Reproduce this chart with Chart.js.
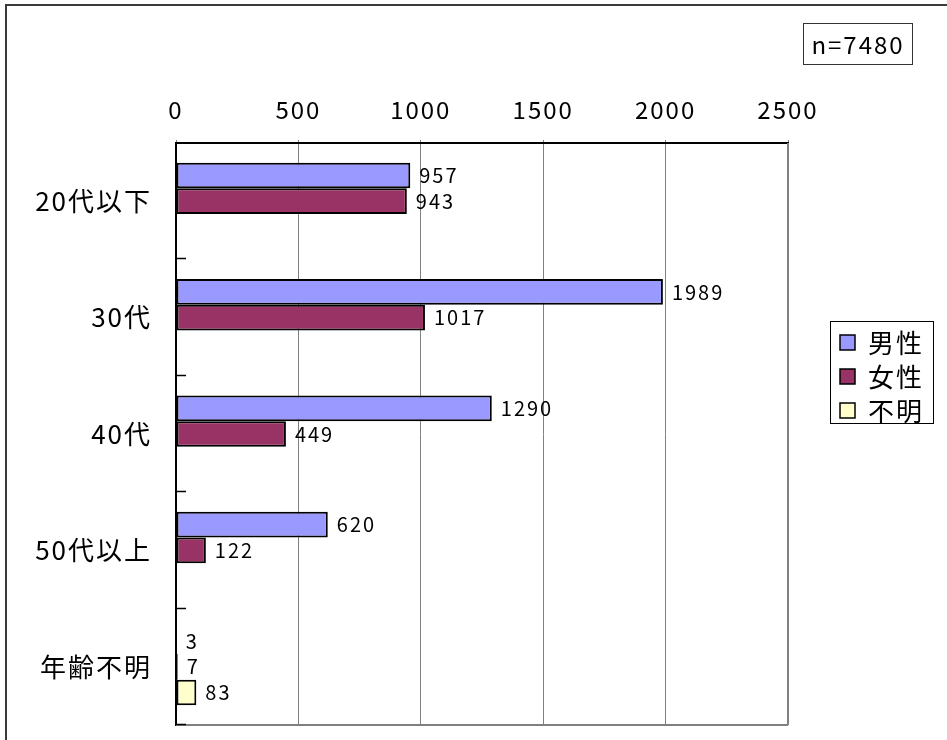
<!DOCTYPE html>
<html><head><meta charset="utf-8">
<script src="https://cdn.jsdelivr.net/npm/chart.js@4/dist/chart.umd.min.js"></script>
<style>
html,body{margin:0;padding:0;background:#fff;overflow:hidden;}
#wrap{position:relative;width:947px;height:740px;}
#frame{position:absolute;left:5px;top:4px;width:1000px;height:1000px;border-left:2px solid #3a3a3a;border-top:2px solid #3a3a3a;}
#c{position:absolute;left:0;top:0;}
#n{position:absolute;left:803px;top:23px;width:108px;height:40px;border:1px solid #333;font:24px "Noto Sans CJK JP";letter-spacing:2px;line-height:40px;text-align:center;color:#000;}
</style></head><body>
<div id="wrap"><div id="frame"></div><canvas id="c" width="947" height="740"></canvas><div id="n"></div></div>
<script>
const categories = ['20代以下','30代','40代','50代以上','年齢不明'];
const seriesNames = ['男性','女性','不明'];
const male = [957,1989,1290,620,3];
const female = [943,1017,449,122,7];
const unknown = [null,null,null,null,83];
const xTicks = [0,500,1000,1500,2000,2500];
const seriesColors = ['#9999FF','#993366','#FFFFCC'];
const sampleLabel = 'n=7480';

document.getElementById('n').textContent = sampleLabel;
const FONT = '"Noto Sans CJK JP", "Noto Sans", sans-serif';

const spacingPlugin = {
  id: 'spacing',
  beforeLayout(chart){ chart.ctx.letterSpacing = '2px'; },
  beforeDraw(chart){ chart.ctx.letterSpacing = '2px'; }
};

const framePlugin = {
  id: 'frameExtras',
  afterDatasetsDraw(chart){
    const {ctx, chartArea: ca, scales} = chart;
    const y = scales.y;
    ctx.save();
    ctx.strokeStyle = '#808080';
    ctx.lineWidth = 2;
    ctx.beginPath();
    ctx.moveTo(ca.left, ca.bottom); ctx.lineTo(ca.right, ca.bottom);
    ctx.moveTo(ca.right, ca.top); ctx.lineTo(ca.right, ca.bottom);
    ctx.stroke();
    const band = y.getPixelForValue(1) - y.getPixelForValue(0);
    const start = y.getPixelForValue(0) - band/2;
    ctx.strokeStyle = '#000';
    ctx.lineWidth = 1.5;
    ctx.beginPath();
    for (let k = 1; k <= categories.length; k++) {
      const py = Math.round(start + k*band) - 0.5;
      ctx.moveTo(ca.left, py); ctx.lineTo(ca.left + 10, py);
    }
    ctx.stroke();
    ctx.letterSpacing = '2px';
    ctx.fillStyle = '#000';
    ctx.font = '20px ' + FONT;
    ctx.textAlign = 'left';
    ctx.textBaseline = 'middle';
    chart.data.datasets.forEach((ds, di) => {
      const meta = chart.getDatasetMeta(di);
      meta.data.forEach((bar, i) => {
        const v = ds.data[i];
        if (v === null || v === undefined) return;
        ctx.fillText(String(v), bar.x + 9, bar.y);
      });
    });
    ctx.restore();
  },
  afterDraw(chart){
    const {ctx, chartArea: ca} = chart;
    ctx.save();
    ctx.letterSpacing = '2px';
    const lx = ca.right + 42, ly = 321, w = 103, h = 102;
    ctx.fillStyle = '#fff';
    ctx.fillRect(lx, ly, w, h);
    ctx.strokeStyle = '#000';
    ctx.lineWidth = 1;
    ctx.strokeRect(lx + 0.5, ly + 0.5, w, h);
    ctx.font = '26px ' + FONT;
    ctx.textAlign = 'left';
    ctx.textBaseline = 'middle';
    chart.data.datasets.forEach((ds, i) => {
      const cy = ly + 21 + i*34;
      ctx.fillStyle = ds.backgroundColor;
      ctx.fillRect(lx + 10, cy - 7, 15, 15);
      ctx.lineWidth = 1.5;
      ctx.strokeStyle = '#000';
      ctx.strokeRect(lx + 10, cy - 7, 15, 15);
      ctx.fillStyle = '#000';
      ctx.fillText(ds.label, lx + 38, cy + 1);
    });
    ctx.restore();
  }
};

const datasets = [male, female, unknown].map((d, i) => ({
  label: seriesNames[i],
  data: d,
  backgroundColor: seriesColors[i],
  borderColor: '#000',
  borderWidth: 2,
  borderSkipped: false,
  categoryPercentage: 0.662,
  barPercentage: 1.0
}));

new Chart(document.getElementById('c'), {
  type: 'bar',
  data: { labels: categories, datasets },
  plugins: [spacingPlugin, framePlugin],
  options: {
    indexAxis: 'y',
    responsive: false,
    animation: false,
    layout: { padding: { left: 26, top: 98, right: 159, bottom: 15 } },
    plugins: { legend: { display: false }, tooltip: { enabled: false } },
    scales: {
      x: {
        position: 'top',
        min: xTicks[0], max: xTicks[xTicks.length - 1],
        afterBuildTicks(scale){ scale.ticks = xTicks.map(v => ({ value: v })); },
        afterFit(scale){ scale.height = 45; scale.paddingLeft = 0; scale.paddingRight = 0; },
        ticks: { color: '#000', font: { size: 24, family: FONT }, padding: 16, maxRotation: 0,
                 callback: (v) => String(v) },
        grid: { color: '#808080', lineWidth: 1, drawTicks: true, tickLength: 3 },
        border: { color: '#000', width: 2 }
      },
      y: {
        afterFit(scale){ scale.width = 150; scale.paddingTop = 0; scale.paddingBottom = 0; },
        ticks: { color: '#000', font: { size: 26, family: FONT }, padding: 24 },
        grid: { display: false, drawTicks: false },
        border: { display: true, color: '#000', width: 2 }
      }
    }
  }
});
</script>
</body></html>
